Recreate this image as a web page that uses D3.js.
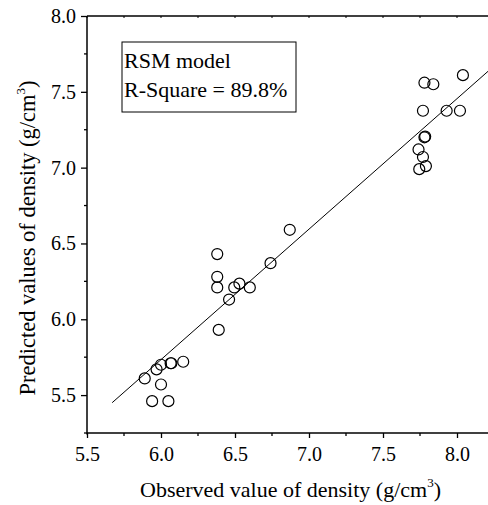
<!DOCTYPE html>
<html>
<head>
<meta charset="utf-8">
<script src="https://cdn.jsdelivr.net/npm/d3@7"></script>
<style>
  html, body { margin: 0; padding: 0; background: #fff; }
  svg text { font-family: "Liberation Serif", "Times New Roman", serif; fill: #000; }
</style>
</head>
<body>
<svg id="chart" width="488" height="505"></svg>
<script>
// Observed vs predicted density (g/cm3)
const observed  = [5.89, 5.94, 6.05, 6.00, 5.97, 6.00, 6.065, 6.07, 6.15, 6.39, 6.46, 6.38, 6.495, 6.60, 6.53, 6.38, 6.38, 6.74, 6.87,
                   8.04, 7.78, 7.84, 7.77, 7.93, 8.02, 7.78, 7.785, 7.74, 7.77, 7.745, 7.79];
const predicted = [5.61, 5.46, 5.46, 5.57, 5.67, 5.70, 5.71, 5.71, 5.72, 5.93, 6.13, 6.21, 6.21, 6.21, 6.235, 6.28, 6.43, 6.37, 6.59,
                   7.61, 7.56, 7.55, 7.375, 7.375, 7.375, 7.20, 7.205, 7.12, 7.07, 6.99, 7.01];
const fitLineX = [5.67, 8.25];
const fitLineY = [5.45, 7.67];
const xTicks = [5.5, 6.0, 6.5, 7.0, 7.5, 8.0];
const yTicks = [5.5, 6.0, 6.5, 7.0, 7.5, 8.0];
const xMinor = [5.75, 6.25, 6.75, 7.25, 7.75, 8.25];
const yMinor = [5.25, 5.75, 6.25, 6.75, 7.25, 7.75];
const legendLines = ["RSM model", "R-Square = 89.8%"];

const svg = d3.select("#chart");
const pLeft = 87, pRight = 494, pTop = 16, pBottom = 433;
const x = d3.scaleLinear().domain([5.5, 8.25]).range([pLeft, pRight]);
const y = d3.scaleLinear().domain([5.25, 8.0]).range([pBottom, pTop]);

// bottom axis
const xAxis = svg.append("g").attr("transform", `translate(0,${pBottom})`)
  .call(d3.axisBottom(x).tickValues(xTicks).tickFormat(d3.format(".1f")).tickSize(5).tickPadding(9));
xAxis.select(".domain").remove();
xAxis.selectAll("text").style("font-size", "20px");
xAxis.selectAll("line").attr("stroke-width", 1.3);
svg.append("g").attr("transform", `translate(0,${pBottom})`)
  .selectAll("line").data(xMinor).join("line")
  .attr("x1", d => x(d)).attr("x2", d => x(d)).attr("y1", 0).attr("y2", 3)
  .attr("stroke", "#000").attr("stroke-width", 1.3);

// left axis
const yAxis = svg.append("g").attr("transform", `translate(${pLeft},0)`)
  .call(d3.axisLeft(y).tickValues(yTicks).tickFormat(d3.format(".1f")).tickSize(6).tickPadding(5));
yAxis.select(".domain").remove();
yAxis.selectAll("text").style("font-size", "20px");
yAxis.selectAll("line").attr("stroke-width", 1.3);
svg.append("g").attr("transform", `translate(${pLeft},0)`)
  .selectAll("line").data(yMinor).join("line")
  .attr("x1", 0).attr("x2", -3).attr("y1", d => y(d)).attr("y2", d => y(d))
  .attr("stroke", "#000").attr("stroke-width", 1.3);

// top mirrored ticks (inward)
svg.append("g").selectAll("line").data(xTicks.concat(xMinor)).join("line")
  .attr("x1", d => x(d)).attr("x2", d => x(d)).attr("y1", pTop).attr("y2", pTop + 2)
  .attr("stroke", "#000").attr("stroke-width", 1);

// frame lines
svg.append("line").attr("x1", pLeft).attr("x2", pLeft).attr("y1", pTop).attr("y2", pBottom + 1.5)
  .attr("stroke", "#000").attr("stroke-width", 1.5);
svg.append("line").attr("x1", pLeft).attr("x2", pRight).attr("y1", pBottom).attr("y2", pBottom)
  .attr("stroke", "#000").attr("stroke-width", 1.5);
svg.append("line").attr("x1", pLeft).attr("x2", pRight).attr("y1", pTop).attr("y2", pTop)
  .attr("stroke", "#000").attr("stroke-width", 1.5);
svg.append("line").attr("x1", pRight).attr("x2", pRight).attr("y1", pTop).attr("y2", pBottom)
  .attr("stroke", "#000").attr("stroke-width", 1.5);

// fit line
svg.append("line")
  .attr("x1", x(fitLineX[0])).attr("y1", y(fitLineY[0]))
  .attr("x2", x(fitLineX[1])).attr("y2", y(fitLineY[1]))
  .attr("stroke", "#000").attr("stroke-width", 1);

// points
svg.append("g").selectAll("circle").data(observed.map((o, i) => [o, predicted[i]])).join("circle")
  .attr("cx", d => x(d[0])).attr("cy", d => y(d[1])).attr("r", 5.5)
  .attr("fill", "none").attr("stroke", "#000").attr("stroke-width", 1.2);

// legend box
svg.append("rect").attr("x", 122).attr("y", 42).attr("width", 174).attr("height", 70)
  .attr("fill", "#fff").attr("stroke", "#000").attr("stroke-width", 1);
svg.append("g").selectAll("text").data(legendLines).join("text")
  .attr("x", 124).attr("y", (d, i) => 68 + i * 29)
  .style("font-size", "22px").text(d => d);

// axis titles
const xt = svg.append("text").attr("x", (pLeft + pRight) / 2).attr("y", 497)
  .attr("text-anchor", "middle").style("font-size", "22px");
xt.append("tspan").text("Observed value of density (g/cm");
xt.append("tspan").attr("dy", -10).style("font-size", "13px").text("3");
xt.append("tspan").attr("dy", 10).text(")");

const yt = svg.append("text").attr("transform", "translate(35,238) rotate(-90)")
  .attr("text-anchor", "middle").style("font-size", "22.5px");
yt.append("tspan").text("Predicted values of density (g/cm");
yt.append("tspan").attr("dy", -10).style("font-size", "13px").text("3");
yt.append("tspan").attr("dy", 10).text(")");
</script>
</body>
</html>
